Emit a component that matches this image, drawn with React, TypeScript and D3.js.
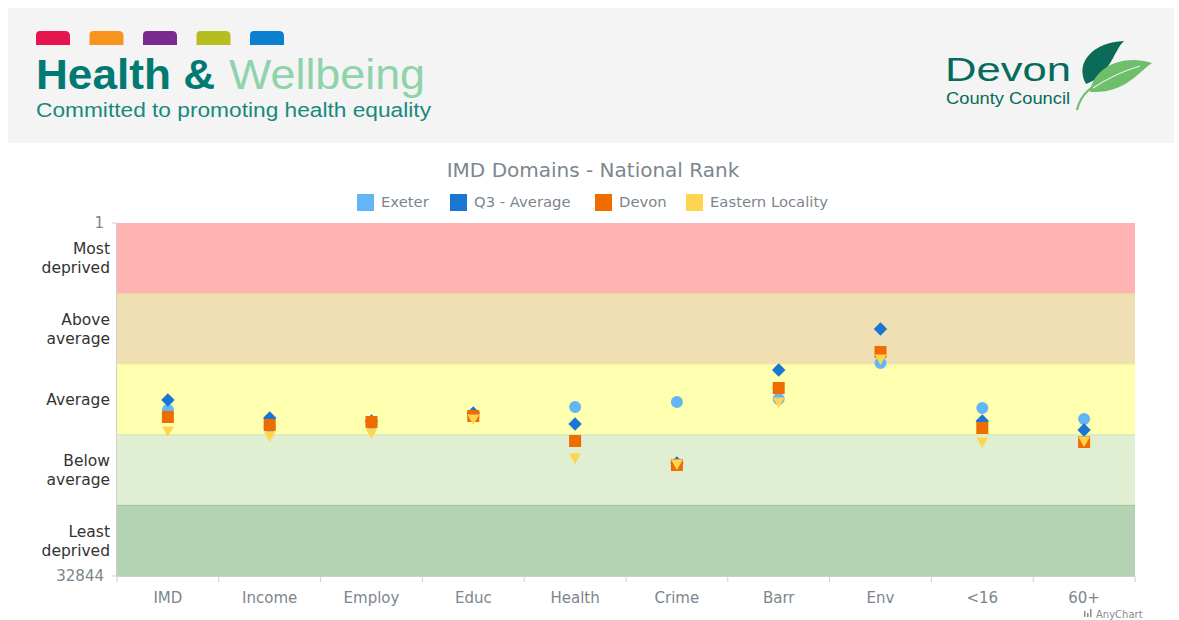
import React from "react";
import * as d3 from "d3";

const categories = ["IMD", "Income", "Employ", "Educ", "Health", "Crime", "Barr", "Env", "<16", "60+"];
const exeter = [17398, 18980, 18701, 17957, 17120, 16654, 16375, 13026, 17213, 18236];
const q3Average = [16468, 18143, 18422, 17678, 18701, 22330, 13677, 9862, 18422, 19259];
const devon = [18050, 18794, 18515, 17957, 20283, 22516, 15352, 12002, 19073, 20376];
const eastern = [19259, 19725, 19446, 18143, 21771, 22330, 16561, 12560, 20283, 20190];

const seriesNames = ["Exeter", "Q3 - Average", "Devon", "Eastern Locality"];
const seriesColors = ["#64b5f6", "#1976d2", "#ef6c00", "#ffd54f"];
const bandLabels = [["Most", "deprived"], ["Above", "average"], ["Average"], ["Below", "average"], ["Least", "deprived"]];
const bandColors = ["#ffb3b3", "#f0dfb2", "#ffffb0", "#e0efd2", "#b3d3b3"];
const bandLines = ["#f0a0a0", "#e8d49a", "#f5f09a", "#cfe4bd", "#a3c6a3"];
const rankMin = 1;
const rankMax = 32844;
const logoColors = ["#e5154f", "#f7941d", "#7c2a8e", "#b5bd1f", "#0b80cf"];

const W = 1179;
const H = 620;
const L = 117, R = 1135, T = 223, B = 576;

export default function App() {
  const x = d3.scaleBand<string>().domain(categories).range([L, R]);
  const y = d3.scaleLinear().domain([rankMin, rankMax]).range([T, B]);
  const edges = d3.range(6).map((i) => rankMin + ((rankMax - rankMin) * i) / 5);
  const font = "'DejaVu Sans', Verdana, sans-serif";
  const gray = "#7c868e";

  const circle = d3.symbol().type(d3.symbolCircle).size(113)()!;
  const square = d3.symbol().type(d3.symbolSquare).size(144)()!;
  const diamond = d3.symbol().type(d3.symbolSquare).size(90)()!;
  const tri = d3.symbol().type(d3.symbolTriangle).size(62)()!;

  const series = [
    { data: exeter, path: circle, rot: 0 },
    { data: q3Average, path: diamond, rot: 45 },
    { data: devon, path: square, rot: 0 },
    { data: eastern, path: tri, rot: 180 },
  ];

  const legendX = [357, 450, 595, 686];

  return (
    <svg width={W} height={H} style={{ position: "absolute", left: 0, top: 0 }}>
      <rect x={0} y={0} width={W} height={H} fill="#fff" />
      {/* header */}
      <rect x={8} y={8} width={1166} height={135} fill="#f4f4f4" />
      {logoColors.map((c, i) => (
        <path
          key={i}
          d={`M${36 + i * 53.5},45 V35 Q${36 + i * 53.5},31 ${40 + i * 53.5},31 H${65 + i * 53.5} Q${70 + i * 53.5},31 ${70 + i * 53.5},36 V45 Z`}
          fill={c}
        />
      ))}
      <text x={36} y={89} fontFamily="'Liberation Sans', Arial, sans-serif" fontWeight="bold" fontSize={42} fill="#007a72" textLength={179} lengthAdjust="spacingAndGlyphs">Health &amp;</text>
      <text x={229} y={89} fontFamily="'Liberation Sans', Arial, sans-serif" fontSize={42} fill="#8fd3ab" textLength={196} lengthAdjust="spacingAndGlyphs">Wellbeing</text>
      <text x={36} y={117} fontFamily="'Liberation Sans', Arial, sans-serif" fontSize={20} fill="#17897f" textLength={395} lengthAdjust="spacingAndGlyphs">Committed to promoting health equality</text>
      {/* Devon logo */}
      <text x={945} y={81} fontFamily="'Liberation Sans', Arial, sans-serif" fontSize={34} fill="#056b5c" textLength={126} lengthAdjust="spacingAndGlyphs">Devon</text>
      <text x={946} y={104} fontFamily="'Liberation Sans', Arial, sans-serif" fontSize={16} fill="#056b5c" textLength={124} lengthAdjust="spacingAndGlyphs">County Council</text>
      <path d="M1086,84 C1074,62 1094,42 1124,41 C1114,50 1110,76 1086,84 Z" fill="#0a6b58" />
      <path d="M1090,92 C1094,66 1124,54 1152,63 C1140,70 1126,94 1090,92 Z" fill="#6dbf6a" />
      <path d="M1077,110 C1080,96 1088,86 1120,72" stroke="#6dbf6a" strokeWidth={2.2} fill="none" />
      <path d="M1093,88 C1105,80 1120,72 1140,66" stroke="#e8f4e6" strokeWidth={1.2} fill="none" />

      {/* title */}
      <text x={593} y={177} textAnchor="middle" fontFamily={font} fontSize={20} fill={gray}>IMD Domains - National Rank</text>
      {/* legend */}
      {seriesNames.map((n, i) => (
        <g key={n}>
          <rect x={legendX[i]} y={194} width={17} height={17} fill={seriesColors[i]} />
          <text x={legendX[i] + 24} y={207} fontFamily={font} fontSize={14.8} fill={gray}>{n}</text>
        </g>
      ))}

      {/* bands */}
      {bandColors.map((c, i) => (
        <g key={i}>
          <rect x={L} y={y(edges[i])} width={R - L} height={y(edges[i + 1]) - y(edges[i])} fill={c} />
          {i > 0 && <line x1={L} x2={R} y1={y(edges[i])} y2={y(edges[i])} stroke={bandLines[i]} strokeWidth={1} />}
        </g>
      ))}
      {bandLabels.map((lines, i) => {
        const cy = (y(edges[i]) + y(edges[i + 1])) / 2;
        const start = cy - ((lines.length - 1) * 19) / 2;
        return lines.map((t, j) => (
          <text key={`${i}-${j}`} x={110} y={start + j * 19} dy="0.35em" textAnchor="end" fontFamily={font} fontSize={15.5} fill="#333">{t}</text>
        ));
      })}
      {/* axes */}
      <line x1={L - 0.5} x2={L - 0.5} y1={T} y2={B} stroke="#cfcfcf" />
      <line x1={L} x2={R} y1={B + 0.5} y2={B + 0.5} stroke="#cfcfcf" />
      {[rankMin, rankMax].map((v) => (
        <g key={v}>
          <line x1={L - 5} x2={L} y1={y(v)} y2={y(v)} stroke="#cfcfcf" />
          <text x={L - 13} y={y(v)} dy="0.35em" textAnchor="end" fontFamily={font} fontSize={15} fill={gray}>{v}</text>
        </g>
      ))}
      {categories.map((c, i) => (
        <g key={c}>
          <line x1={x(c)!} x2={x(c)!} y1={B} y2={B + 6} stroke="#cfcfcf" />
          {i === categories.length - 1 && <line x1={R} x2={R} y1={B} y2={B + 6} stroke="#cfcfcf" />}
          <text x={x(c)! + x.bandwidth() / 2} y={598} dy="0.35em" textAnchor="middle" fontFamily={font} fontSize={15} fill={gray}>{c}</text>
        </g>
      ))}

      {/* markers */}
      {series.map((s, si) => (
        <g key={si}>
          {s.data.map((v, i) => (
            <path
              key={i}
              d={s.path}
              transform={`translate(${x(categories[i])! + x.bandwidth() / 2},${y(v)}) rotate(${s.rot})`}
              fill={seriesColors[si]}
            />
          ))}
        </g>
      ))}

      {/* credit */}
      <g fill="#8a8a8a">
        <rect x={1084} y={611} width={1.5} height={6} />
        <rect x={1087} y={613} width={1.5} height={4} />
        <rect x={1090} y={609} width={1.5} height={8} />
      </g>
      <text x={1096} y={618} fontFamily={font} fontSize={10} fill="#8a8a8a">AnyChart</text>
    </svg>
  );
}
